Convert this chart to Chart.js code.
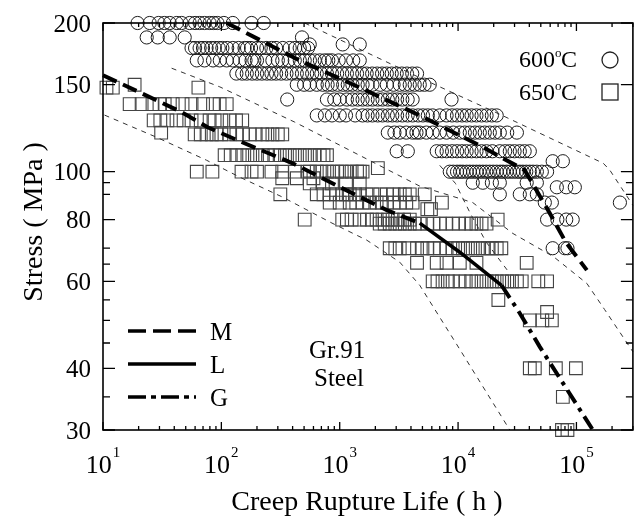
<!DOCTYPE html>
<html>
<head>
<meta charset="utf-8">
<script src="https://cdn.jsdelivr.net/npm/chart.js@4.4.0/dist/chart.umd.min.js"></script>
<style>
html,body{margin:0;padding:0;background:#fff;}
#wrap{width:643px;height:518px;}
</style>
</head>
<body>
<div id="wrap"><canvas id="c" width="643" height="518"></canvas></div>
<script>
// ---------- data ----------
// 600 °C (circles): stress levels (MPa) and rupture lives (h) at each level
const stress600 = [200, 187, 181, 178, 168, 158, 150, 140, 130, 120, 110, 105, 100, 95, 93, 90, 86.6, 80, 70];
const lives600 = [
  [19.6, 24.8, 29.5, 33, 36.6, 42, 46.1, 54, 60, 65.5, 72, 79.6, 86, 92.7, 105, 125, 180, 228],
  [23.4, 29, 36.6, 49, 480],
  [558, 1060, 1476],
  [56, 60, 65.5, 70, 75, 82, 88, 95, 102, 112, 125, 140, 157, 165, 178, 200, 215, 240, 265, 290, 330, 378, 420, 459, 500, 540],
  [62, 72, 85, 97, 111, 125, 143, 160, 180, 190, 200, 235, 270, 300, 327, 370, 417, 460, 506, 560, 615, 680, 747, 800, 860, 980, 1130, 1300, 1476],
  [134, 150, 164, 182, 200, 220, 243, 265, 290, 320, 355, 395, 434, 480, 530, 585, 640, 700, 780, 860, 950, 1050, 1150, 1270, 1400, 1550, 1690, 1880, 2070, 2280, 2500, 2750, 3030, 3350, 3700, 4100, 4500],
  [434, 500, 558, 640, 720, 790, 860, 960, 1070, 1170, 1280, 1420, 1560, 1720, 1890, 2200, 2500, 2850, 3214, 3550, 3905, 4300, 4743, 5200, 5762],
  [360, 780, 900, 1000, 1150, 1280, 1420, 1560, 1720, 1890, 2100, 2300, 2550, 2780, 3050, 3380, 3750, 4130, 8800],
  [640, 750, 860, 1000, 1130, 1350, 1560, 1720, 1890, 2100, 2300, 2550, 2780, 3050, 3380, 3750, 4130, 4600, 5050, 5550, 6100, 7000, 8000, 8900, 9800, 10800, 11800, 13000, 14300, 15800, 17400, 19300, 21200],
  [2550, 2900, 3214, 3650, 4130, 4450, 4743, 5400, 6100, 7000, 8000, 9100, 10340, 11400, 12560, 13900, 15260, 16800, 18540, 20500, 22520, 26000, 31400],
  [3030, 3760, 6600, 7300, 8000, 8900, 9800, 10800, 11800, 13000, 14300, 15800, 17400, 19500, 22520, 25000, 27360, 30000, 33230, 36500, 40370],
  [63000, 76800],
  [8510, 9100, 9800, 10400, 11000, 11800, 12560, 13400, 14300, 15200, 16200, 17300, 18540, 19800, 21200, 22700, 24000, 25700, 27360, 29300, 31400, 33300, 35300, 37700, 40370, 43000, 46300, 51000, 56500],
  [13300, 16200, 19300, 22520, 38000, 46300],
  [68300, 82000, 96900],
  [22520, 33230, 40370, 46300],
  [54060, 62000, 232900],
  [56500, 69000, 82000, 93000],
  [63000, 79800, 84000]
];

// 650 °C (squares)
const stress650 = [150, 148, 137, 127, 120, 119, 108, 101.7, 100, 97, 94.7, 90, 86.6, 84, 80, 78.5, 70, 65.4, 60, 55, 52, 50, 40, 35, 30];
const lives650 = [
  [18.5],
  [10.7, 12.1, 64],
  [16.8, 21.2, 26.2, 30, 33.2, 38.8, 47, 56, 70, 85, 96.7, 111],
  [26.8, 30.5, 35, 41.8, 48, 56, 67, 79.6, 87.7, 100, 117.5, 133, 150],
  [31],
  [59.5, 67, 75, 83, 91, 100, 117, 134, 152, 173.5, 195, 222, 245, 270, 300, 327],
  [106.6, 120, 134, 150, 166, 183, 200, 224, 248, 280, 311, 345, 378, 418, 459, 508, 558, 615, 678, 730, 780],
  [2100],
  [62, 84, 148, 180, 200, 265, 327, 417, 535, 560, 640, 700, 780, 870, 950, 1040, 1130, 1260, 1400, 1480, 1560],
  [327, 434, 600],
  [558, 720, 860, 1130, 1476],
  [315, 640, 730, 823, 930, 1050, 1130, 1215, 1350, 1476, 1680, 1890, 2200, 2500, 2850, 3214, 3550, 3905, 5228],
  [823, 1000, 1215, 1380, 1560, 1800, 2050, 2270, 2500, 2850, 3214, 3650, 4130, 7300],
  [5500, 5900],
  [506, 1050, 1150, 1260, 1480, 1700, 1870, 2050, 2300, 2550, 2800, 3100, 3500, 3905, 21600],
  [2178, 2400, 2646, 2950, 3214, 3550, 3905, 4300, 4743, 5500, 6200, 7000, 7900, 9000, 10200, 11600, 12900, 14300, 15800, 17400],
  [2646, 2950, 3214, 3850, 4500, 5000, 5500, 6200, 7000, 8000, 9000, 10000, 11000, 12100, 13300, 14700, 16200, 17800, 19300, 21200, 23200],
  [4500, 6600, 8000, 10340, 14300, 38000],
  [6100, 6700, 7400, 8200, 9000, 10300, 11600, 12900, 14300, 15800, 17400, 19300, 21200, 23500, 26000, 28500, 31400, 34500, 47600, 56500],
  [21900],
  [56500],
  [40370, 51500, 62000],
  [40370, 44500, 67000, 99000],
  [76800],
  [75500, 84000]
];

// Prediction curves (life h, stress MPa)
const m600Life   = [111, 459, 1476, 4742, 15240, 36600, 59400, 81300, 122500];
const m600Stress = [200, 168, 148, 130, 113, 100.7, 82.5, 72, 63.2];
const up600Life   = [506, 4743, 22520, 168700, 191700, 300000];
const up600Stress = [200, 155, 130.7, 104, 100.7, 85.5];
const lo600Life   = [7000, 9500, 12640, 17300, 26060];
const lo600Stress = [103, 94.7, 82.5, 72, 63.2];

const m650Life   = [10, 46.2, 76.5, 150, 400, 590, 1000, 2500, 4743];
const m650Stress = [156.8, 132, 123, 114.7, 104, 99.3, 93.1, 83.6, 78.7];
const l650Life   = [4743, 10340, 23300];
const l650Stress = [78.7, 68.7, 58.9];
const g650Life   = [23300, 33230, 49050, 137700];
const g650Stress = [58.9, 51.7, 44.2, 30];
const up650Life   = [38, 97, 417, 4743, 13300, 29000, 64000, 122500, 173000, 300000];
const up650Stress = [162, 148.5, 126, 93.5, 86.6, 75, 67.3, 59.4, 52.6, 43.2];
const lo650Life   = [10.3, 28.4, 74.9, 143, 330, 860, 1690, 3214, 4743, 9800, 27360];
const lo650Stress = [130.2, 117.4, 105.5, 97.5, 88.8, 78.7, 72.7, 65.6, 58.9, 44.6, 30];

// axis ticks
const xDecades = [1, 2, 3, 4, 5];
const yMajorTicks = [30, 40, 60, 80, 100, 150, 200];
const yMinorTicks = [35, 45, 50, 55, 65, 70, 90, 95];

// ---------- build datasets ----------
function rows(levels, lives) {
  const out = [];
  levels.forEach((s, i) => lives[i].forEach(t => out.push({x: t, y: s})));
  return out;
}
function curve(lifes, stresses) {
  return lifes.map((t, i) => ({x: t, y: stresses[i]}));
}
function lineDS(pts, width, dash, color) {
  return {type: 'line', data: pts, showLine: true, pointRadius: 0, borderColor: color || '#000',
    borderWidth: width, borderDash: dash, fill: false, tension: 0, order: 0, clip: false};
}

const datasets = [
  lineDS(curve(m600Life, m600Stress), 4, [15, 7]),
  lineDS(curve(m650Life, m650Stress), 4, [15, 7]),
  lineDS(curve(l650Life, l650Stress), 3.5, []),
  lineDS(curve(g650Life, g650Stress), 4, [15, 6, 4, 6]),
  lineDS(curve(up600Life, up600Stress), 1, [5, 5], '#333'),
  lineDS(curve(lo600Life, lo600Stress), 1, [5, 5], '#333'),
  lineDS(curve(up650Life, up650Stress), 1, [5, 5], '#333'),
  lineDS(curve(lo650Life, lo650Stress), 1, [5, 5], '#333'),
  {type: 'scatter', data: rows(stress600, lives600), pointStyle: 'circle', pointRadius: 6.6,
   borderColor: '#1a1a1a', borderWidth: 1, backgroundColor: 'rgba(0,0,0,0)', order: 2, clip: false},
  {type: 'scatter', data: rows(stress650, lives650), pointStyle: 'rect', pointRadius: 9,
   borderColor: '#444', borderWidth: 1.1, backgroundColor: 'rgba(0,0,0,0)', order: 2, clip: false}
];

const SERIF = '"Liberation Serif", "Times New Roman", serif';

const decor = {
  id: 'decor',
  afterDraw(chart) {
    const ctx = chart.ctx;
    const {left, right, top, bottom} = chart.chartArea;
    const xs = chart.scales.x, ys = chart.scales.y;
    ctx.save();
    ctx.strokeStyle = '#000';
    ctx.fillStyle = '#000';
    ctx.lineWidth = 1.6;
    ctx.setLineDash([]);
    ctx.strokeRect(left, top, right - left, bottom - top);

    // x ticks (inward, top and bottom)
    ctx.lineWidth = 1.3;
    [0].concat(xDecades).forEach(e => {
      for (let m = 1; m <= 9; m++) {
        const v = m * Math.pow(10, e);
        if (v < 10 || v > 3e5) continue;
        const px = xs.getPixelForValue(v);
        const len = m === 1 ? 8 : 4;
        ctx.beginPath();
        ctx.moveTo(px, bottom); ctx.lineTo(px, bottom - len);
        ctx.moveTo(px, top); ctx.lineTo(px, top + len);
        ctx.stroke();
      }
    });
    // y ticks (inward, left and right)
    yMajorTicks.forEach(v => {
      const py = ys.getPixelForValue(v);
      ctx.beginPath();
      ctx.moveTo(left, py); ctx.lineTo(left + 12, py);
      ctx.moveTo(right, py); ctx.lineTo(right - 12, py);
      ctx.stroke();
    });
    yMinorTicks.forEach(v => {
      const py = ys.getPixelForValue(v);
      ctx.beginPath();
      ctx.moveTo(left, py); ctx.lineTo(left + 7, py);
      ctx.moveTo(right, py); ctx.lineTo(right - 7, py);
      ctx.stroke();
    });

    // y tick labels
    ctx.font = '25px ' + SERIF;
    ctx.textAlign = 'right';
    ctx.textBaseline = 'alphabetic';
    yMajorTicks.forEach(v => {
      const py = ys.getPixelForValue(v);
      ctx.fillText(String(v), 91, py + 8.5);
    });

    // x tick labels 10^n
    ctx.textAlign = 'left';
    xDecades.forEach(e => {
      const px = xs.getPixelForValue(Math.pow(10, e));
      ctx.font = '26px ' + SERIF;
      const w1 = ctx.measureText('10').width;
      ctx.font = '15px ' + SERIF;
      const w2 = ctx.measureText(String(e)).width;
      const start = px - (w1 + w2 + 1) / 2;
      ctx.font = '26px ' + SERIF;
      ctx.fillText('10', start, 473);
      ctx.font = '15px ' + SERIF;
      ctx.fillText(String(e), start + w1 + 1, 457);
    });

    // axis titles
    ctx.font = '28px ' + SERIF;
    ctx.textAlign = 'center';
    ctx.fillText('Creep Rupture Life ( h )', 367, 510);
    ctx.save();
    ctx.translate(42, 222);
    ctx.rotate(-Math.PI / 2);
    ctx.fillText('Stress ( MPa )', 0, 0);
    ctx.restore();

    // temperature legend
    ctx.textAlign = 'left';
    [['600', 67], ['650', 100]].forEach(([t, base]) => {
      ctx.font = '24px ' + SERIF;
      ctx.fillText(t, 519, base);
      ctx.font = '13px ' + SERIF;
      ctx.fillText('o', 555, base - 10);
      ctx.font = '24px ' + SERIF;
      ctx.fillText('C', 561, base);
    });
    ctx.lineWidth = 1.3;
    ctx.strokeStyle = '#222';
    ctx.beginPath();
    ctx.arc(610, 60, 8, 0, Math.PI * 2);
    ctx.stroke();
    ctx.strokeRect(602, 84, 16, 16);

    // line-style legend
    ctx.strokeStyle = '#000';
    ctx.lineWidth = 3.5;
    const legendLines = [[[18, 7], 331, 'M', 340], [[], 364, 'L', 373], [[18, 5, 5, 5], 397, 'G', 406]];
    legendLines.forEach(([dash, y, lab, base]) => {
      ctx.setLineDash(dash);
      ctx.beginPath();
      ctx.moveTo(128, y); ctx.lineTo(196, y);
      ctx.stroke();
      ctx.setLineDash([]);
      ctx.font = '25px ' + SERIF;
      ctx.fillText(lab, 210, base);
    });

    // annotation
    ctx.textAlign = 'center';
    ctx.font = '25px ' + SERIF;
    ctx.fillText('Gr.91', 337, 358);
    ctx.fillText('Steel', 339, 386);
    ctx.restore();
  }
};

new Chart(document.getElementById('c'), {
  type: 'scatter',
  data: {datasets},
  options: {
    responsive: false,
    animation: false,
    layout: {padding: {left: 103, top: 23, right: 9, bottom: 88}},
    plugins: {legend: {display: false}, tooltip: {enabled: false}},
    scales: {
      x: {type: 'logarithmic', min: 10, max: 3e5, display: false},
      y: {type: 'logarithmic', min: 30, max: 200, display: false}
    }
  },
  plugins: [decor]
});
</script>
</body>
</html>
